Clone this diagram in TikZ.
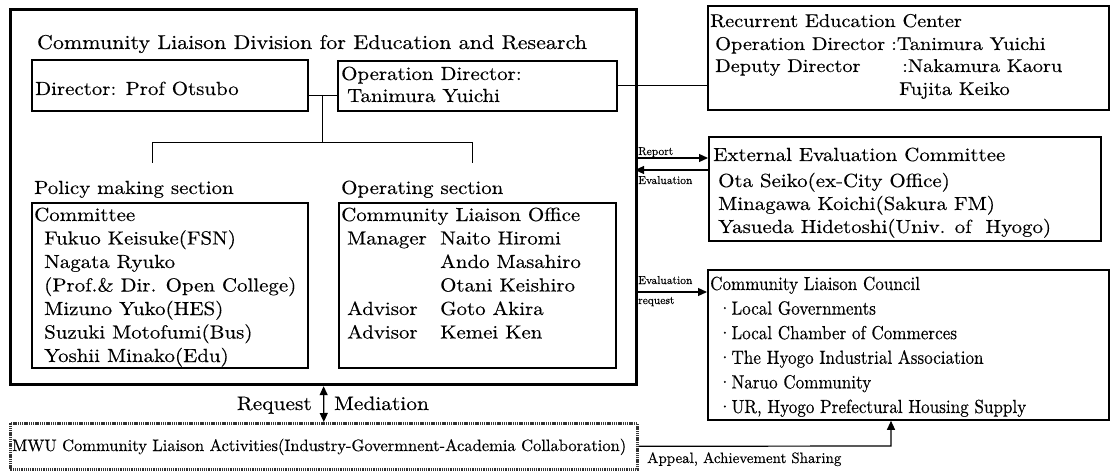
\documentclass[tikz,border=0pt]{standalone}
\usepackage{fontspec}
\setmainfont{lmroman10-regular.otf}
\newfontfamily\wideF{lmroman10-regular.otf}[FakeStretch=1.1,FakeBold=0.3]
\newfontfamily\normF{lmroman10-regular.otf}[FakeBold=0.3]
\newfontfamily\narrF{lmroman10-regular.otf}[FakeStretch=0.9,FakeBold=0.3]
\usetikzlibrary{arrows.meta}
\begin{document}
\begin{tikzpicture}[x=1pt,y=-1pt,
  box/.style={draw, line width=1.8pt, inner sep=0pt, anchor=north west},
  bigbox/.style={draw, line width=3.2pt, inner sep=0pt, anchor=north west},
  dashbox/.style={draw=black!80, line width=2.6pt, dash pattern=on 1.3pt off 0.9pt, inner sep=0pt, anchor=north west},
  txt/.style={anchor=base west, inner sep=0pt, font=\wideF\fontsize{19}{23}\selectfont},
  rtxt/.style={anchor=base west, inner sep=0pt, font=\wideF\fontsize{18.5}{23}\selectfont},
  ctxt/.style={anchor=base west, inner sep=0pt, font=\narrF\fontsize{19}{23}\selectfont},
  small/.style={anchor=base west, inner sep=0pt, font=\normF\fontsize{11.5}{13}\selectfont},
  conn/.style={line width=1pt},
  arr/.style={line width=1.2pt,-{Triangle[length=9pt,width=8pt]}},
]
\useasboundingbox (0,0) rectangle (1110,473);

% main division box
\node[bigbox, minimum width=626, minimum height=375] (div) at (9,8) {};
\node[anchor=base, inner sep=0pt, font=\wideF\fontsize{20}{24}\selectfont] (title) at (312,49) {Community Liaison Division for Education and Research};

\node[box, minimum width=276, minimum height=51] (dir) at (31,59) {};
\node[txt] (dirt) at (35,95) {Director: Prof Otsubo};
\node[box, minimum width=279, minimum height=50] (opd) at (337,60) {};
\node[txt] (opdt1) at (341,80) {Operation Director:};
\node[txt] (opdt2) at (347,102) {Tanimura Yuichi};

\coordinate (j1) at (322,95);
\coordinate (j2) at (322,143);
\coordinate (pl) at (152,143);
\coordinate (pr) at (472,143);
\coordinate (plb) at (152,163);
\coordinate (prb) at (472,163);
\draw[conn] ([yshift=-10pt]dir.east) -- ([yshift=-10pt]dir.east -| opd.west);
\draw[conn] (j1) -- (j2);
\draw[conn] (plb) -- (pl) -- (pr) -- (prb);

\node[txt] (polt) at (34,194) {Policy making section};
\node[txt] (opst) at (341,194) {Operating section};

\node[box, minimum width=276, minimum height=165] (com) at (31,202) {};
\node[txt] (com0) at (34,221) {Committee};
\foreach \t [count=\i] in {Fukuo Keisuke(FSN), Nagata Ryuko, (Prof.\& Dir. Open College), Mizuno Yuko(HES), Suzuki Motofumi(Bus), Yoshii Minako(Edu)}
  \node[txt] (com\i) at (44,{221+23.5*\i}) {\t};

\node[box, minimum width=277, minimum height=165] (ops) at (338,202) {};
\node[txt] (ops0) at (341,221) {Community Liaison Office};
\node[txt] (ops1) at (347,244.5) {Manager};
\node[txt] (ops2) at (440,244.5) {Naito Hiromi};
\node[txt] (ops3) at (440,268) {Ando Masahiro};
\node[txt] (ops4) at (440,291.5) {Otani Keishiro};
\node[txt] (ops5) at (347,315) {Advisor};
\node[txt] (ops6) at (440,315) {Goto Akira};
\node[txt] (ops7) at (347,338.5) {Advisor};
\node[txt] (ops8) at (440,338.5) {Kemei Ken};

% recurrent education center
\node[box, minimum width=401, minimum height=104] (rec) at (707,5) {};
\node[rtxt] (rec1) at (710,27) {Recurrent Education Center};
\node[rtxt] (rec2) at (715,50) {Operation Director};
\node[rtxt] (rec2c) at (891,50) {:Tanimura Yuichi};
\node[rtxt] (rec3) at (715,72) {Deputy Director};
\node[rtxt] (rec3c) at (902,72) {:Nakamura Kaoru};
\node[rtxt] (rec4) at (899,95) {Fujita Keiko};
\draw[conn] (opd.east) -- (opd.east -| rec.west);

% external evaluation committee
\node[box, minimum width=392, minimum height=104] (ext) at (708,136) {};
\node[txt] (ext1) at (713,161) {External Evaluation Committee};
\node[txt] (ext2) at (718,187) {Ota Seiko(ex-City Office)};
\node[txt] (ext3) at (718,210) {Minagawa Koichi(Sakura FM)};
\node[txt] (ext4) at (718,233) {Yasueda Hidetoshi(Univ. of\ \ Hyogo)};

\coordinate (rp1) at (635,158);
\coordinate (ev1) at (635,170);
\draw[arr] (rp1) -- (rp1 -| ext.west);
\draw[arr] (ev1 -| ext.west) -- (ev1);
\node[small] (rpl) at (638,155) {Report};
\node[small] (evl) at (638,184) {Evaluation};

% community liaison council
\node[box, minimum width=401, minimum height=150] (cou) at (707,269) {};
\node[ctxt] (cou0) at (710,290) {Community Liaison Council};
\foreach \t [count=\i] in {Local Governments, Local Chamber of Commerces, The Hyogo Industrial Association, Naruo Community, {UR, Hyogo Prefectural Housing Supply}}
  \node[ctxt] (cou\i) at (718,{290+24.6*\i}) {·\t};

\coordinate (er1) at (635,292);
\draw[arr] (er1) -- (er1 -| cou.west);
\node[small] (erl1) at (638,284) {Evaluation};
\node[small] (erl2) at (638,304) {request};

% MWU box
\node[dashbox, minimum width=627, minimum height=46] (mwu) at (9,422) {};
\node[anchor=base west, inner sep=0pt, font=\normF\fontsize{16.5}{20}\selectfont] (mwut) at (12,451) {MWU Community Liaison Activities(Industry-Govermnent-Academia Collaboration)};

\draw[line width=1.2pt,{Triangle[length=9pt,width=8pt]}-{Triangle[length=9pt,width=8pt]}] (div.south) -- (mwu.north);
\node[anchor=base east, inner sep=0pt, font=\wideF\fontsize{19.5}{23}\selectfont] (reql) at (312,410) {Request};
\node[anchor=base west, inner sep=0pt, font=\wideF\fontsize{19.5}{23}\selectfont] (medl) at (334,410) {Mediation};

\coordinate (ap) at (891,446);
\draw[arr] (mwu.east) -- (ap) -- (ap |- cou.south);
\node[anchor=base west, inner sep=0pt, font=\normF\fontsize{15}{17}\selectfont] (apl) at (647,463) {Appeal, Achievement Sharing};
\end{tikzpicture}
\end{document}
